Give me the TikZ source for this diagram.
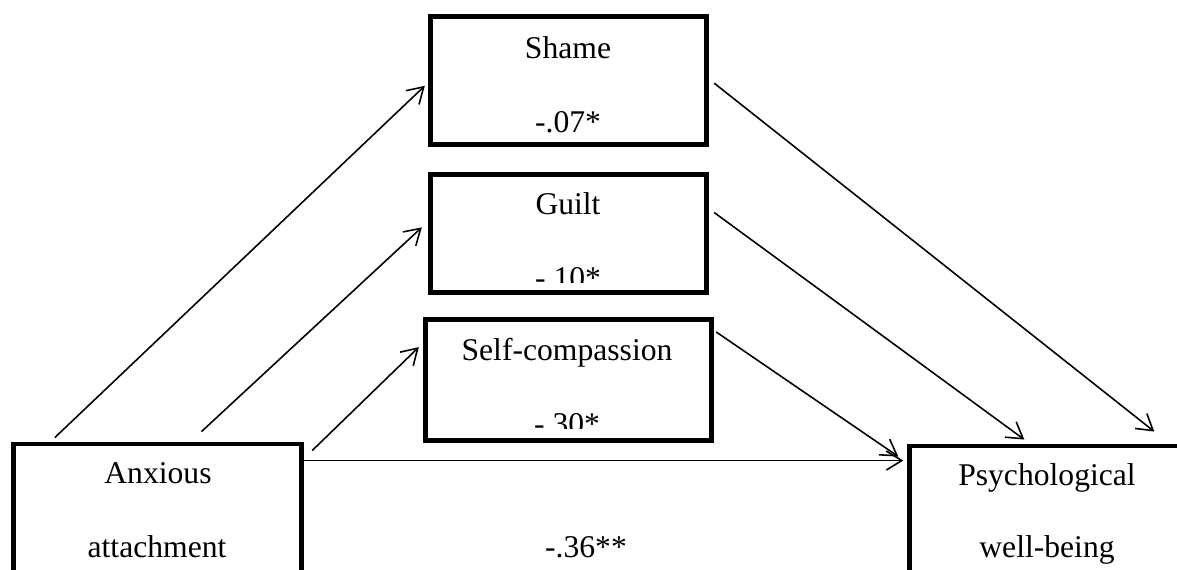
\documentclass[tikz,border=0pt]{standalone}
\usepackage{fontspec}
\setmainfont{Liberation Serif}
\usetikzlibrary{calc,arrows.meta}

\begin{document}
\begin{tikzpicture}[x=0.02cm,y=-0.02cm,
    box/.style={draw=black,line width=2.8pt,inner sep=0pt},
    lbl/.style={anchor=base,inner sep=0pt,font=\fontsize{18}{22}\selectfont},
    arr/.style={line width=0.9pt,-{Straight Barb[length=3.1mm,width=3.8mm]}}]
  % canvas (boxes at the bottom run past the edge)
  \useasboundingbox (0,0) rectangle (1177,569);
  \clip (0,0) rectangle (1177,569);

  % boxes
  \node[box,minimum width=5.53cm,minimum height=2.57cm] (shame) at (568.5,80.5) {};
  \node[box,minimum width=5.53cm,minimum height=2.37cm] (guilt) at (568.5,233.5) {};
  \node[box,minimum width=5.73cm,minimum height=2.43cm] (selfc) at (568.5,380) {};
  \node[box,minimum width=5.77cm,minimum height=3.2cm] (anx) at (157.5,524) {};
  \node[box,minimum width=5.77cm,minimum height=3.2cm] (psy) at (1054,526) {};

  % box texts
  \node[lbl] (shameT) at (568,58) {Shame};
  \node[lbl] (shameV) at (568,132) {-.07*};
  \node[lbl] (guiltT) at (568,214) {Guilt};
  \node[lbl] (selfcT) at (567,360) {Self-compassion};
  \node[lbl] (anxT) at (158,483) {Anxious};
  \node[lbl] (anxB) at (157,557) {attachment};
  \node[lbl] (psyT) at (1047,485) {Psychological};
  \node[lbl] (psyB) at (1047,557) {well-being};

  % values cut off by their text frames
  \begin{scope}
    \clip (430,250) rectangle (707,282);
    \node[lbl] (guiltV) at (568,288) {-.10*};
  \end{scope}
  \begin{scope}
    \clip (426,395) rectangle (712,428);
    \node[lbl] (selfcV) at (567,434) {-.30*};
  \end{scope}

  % paths into the mediators
  \draw[arr] ($(anx.north west)!0.15!(anx.north east)+(0,-4)$)
    -- ($(shame.north west)!0.54!(shame.south west)+(-3,0)$);
  \draw[arr] ($(anx.north west)!0.65!(anx.north east)+(0,-10)$)
    -- ($(guilt.north west)!0.45!(guilt.south west)+(-6,0)$);
  \draw[arr] ($(anx.north east)+(8,9)$)
    -- ($(selfc.north west)!0.24!(selfc.south west)+(-4,0)$);

  % paths out of the mediators
  \draw[arr] ($(shame.north east)!0.52!(shame.south east)+(5,0)$)
    -- ($(psy.north west)+(247,-12)$);
  \draw[arr] ($(guilt.north east)!0.33!(guilt.south east)+(5,0)$)
    -- ($(psy.north west)+(117,-4)$);
  \draw[arr] ($(selfc.north east)!0.12!(selfc.south east)+(2,0)$)
    -- ($(psy.north west)+(-9,13)$);

  % direct path
  \coordinate (dirS) at ($(anx.north east)+(-2,19)$);
  \draw[arr] (dirS) -- ($(dirS -| psy.west)+(-4,0)$);
  \node[lbl] (dirV) at (586,557) {-.36**};
\end{tikzpicture}
\end{document}
